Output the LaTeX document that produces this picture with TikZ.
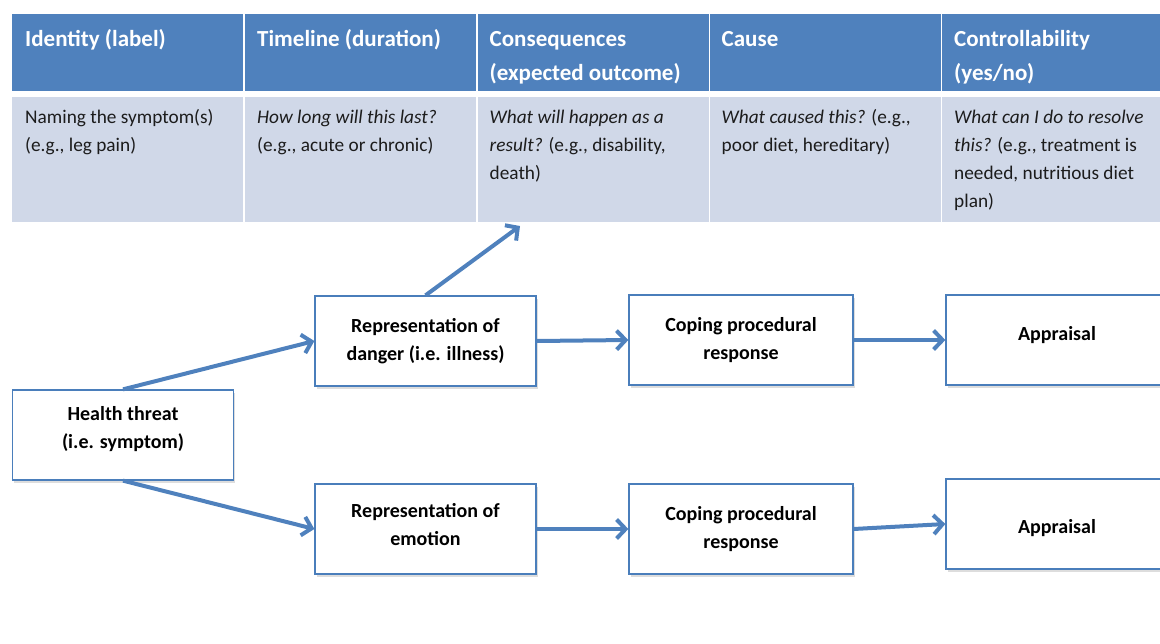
\documentclass[tikz,border=0pt]{standalone}
\usepackage{fontspec}
\setmainfont{Carlito}
\usetikzlibrary{arrows.meta,shadows}
\definecolor{hdr}{HTML}{4F81BD}
\definecolor{cellbg}{HTML}{D0D8E8}
\definecolor{flowc}{HTML}{4F81BD}
\definecolor{boxline}{HTML}{4A7EBB}
\definecolor{bodytxt}{HTML}{1C1C1C}

\begin{document}
\begin{tikzpicture}[x=1pt,y=-1pt,
  hcell/.style={fill=hdr, minimum width=231pt, minimum height=77pt, anchor=north west, inner sep=0pt},
  bcell/.style={fill=cellbg, minimum width=231pt, minimum height=125.5pt, anchor=north west, inner sep=0pt},
  % first line carries a \strut, so the node top sits 0.7\baselineskip above its baseline
  htext/.style={anchor=north west, text=white, font=\fontsize{23}{34}\selectfont\bfseries, align=left, inner sep=0pt},
  btext/.style={anchor=north west, text=bodytxt, font=\fontsize{19.3}{28}\selectfont, align=left, inner sep=0pt},
  box/.style={draw=boxline, line width=1.3pt, fill=white, minimum width=221pt, minimum height=90pt,
    inner sep=0pt, align=center, font=\fontsize{20}{28}\selectfont\bfseries,
    drop shadow={shadow xshift=1.5pt, shadow yshift=-2.5pt, opacity=0.22, fill=black!60}},
  flow/.style={draw=flowc, line width=4pt,
    -{Straight Barb[length=9pt,width=19pt,line width=4pt]}}
]
\useasboundingbox (0,0) rectangle (1160,643);
\clip (0,0) rectangle (1160,643);

% table: header row and description row
\node[hcell] (h1) at (12,14) {};
\node[hcell] (h2) at (245,14) {};
\node[hcell] (h3) at (477.5,14) {};
\node[hcell] (h4) at (709.5,14) {};
\node[hcell] (h5) at (942,14) {};
\node[bcell] (b1) at (12,96.5) {};
\node[bcell] (b2) at (245,96.5) {};
\node[bcell] (b3) at (477.5,96.5) {};
\node[bcell] (b4) at (709.5,96.5) {};
\node[bcell] (b5) at (942,96.5) {};

\node[htext] (ht1) at ([xshift=13pt,yshift=-8.2pt]h1.north west) {\strut Identity (label)};
\node[htext] (ht2) at ([xshift=12pt,yshift=-8.2pt]h2.north west) {\strut Timeline (duration)};
\node[htext] (ht3) at ([xshift=12pt,yshift=-8.2pt]h3.north west) {\strut Consequences\\(expected outcome)};
\node[htext] (ht4) at ([xshift=12pt,yshift=-8.2pt]h4.north west) {\strut Cause};
\node[htext] (ht5) at ([xshift=12pt,yshift=-8.2pt]h5.north west) {\strut Controllability\\(yes/no)};

\node[btext] (bt1) at ([xshift=13pt,yshift=-7.4pt]b1.north west) {\strut Naming the symptom(s)\\(e.g., leg pain)};
\node[btext] (bt2) at ([xshift=12pt,yshift=-7.4pt]b2.north west) {\strut\textit{How long will this last?}\\(e.g., acute or chronic)};
\node[btext] (bt3) at ([xshift=12pt,yshift=-7.4pt]b3.north west) {\strut\textit{What will happen as a}\\\textit{result?} (e.g., disability,\\death)};
\node[btext] (bt4) at ([xshift=12pt,yshift=-7.4pt]b4.north west) {\strut\textit{What caused this?} (e.g.,\\poor diet, hereditary)};
\node[btext] (bt5) at ([xshift=12pt,yshift=-7.4pt]b5.north west) {\strut\textit{What can I do to resolve}\\\textit{this?} (e.g., treatment is\\needed, nutritious diet\\plan)};

% flow boxes (text depth / height nudge the labels off centre)
\node[box, text depth=15pt] (threat) at (123,435) {Health threat\\(i.e. symptom)};
\node[box] (danger) at (425.5,341) {Representation of\\danger (i.e. illness)};
\node[box, text depth=10pt] (emotion) at (425.5,529) {Representation of\\emotion};
\node[box, minimum width=224pt] (cope1) at (741,340) {Coping procedural\\response};
\node[box, minimum width=224pt] (cope2) at (741,529) {Coping procedural\\response};
\node[box, minimum width=222pt, text depth=12.5pt] (appr1) at (1057,340) {Appraisal};
\node[box, minimum width=222pt, text height=22pt] (appr2) at (1057,524) {Appraisal};

\coordinate (conseq) at (520,226);

% connectors
\draw[flow] (threat.north) -- (danger.west);
\draw[flow] (threat.south) -- (emotion.west);
\draw[flow] (danger.north) -- (conseq);
\draw[flow] (danger.east) -- (cope1.west);
\draw[flow] (cope1.east) -- (appr1.west);
\draw[flow] (emotion.east) -- (cope2.west);
\draw[flow] (cope2.east) -- (appr2.west);
\end{tikzpicture}
\end{document}
